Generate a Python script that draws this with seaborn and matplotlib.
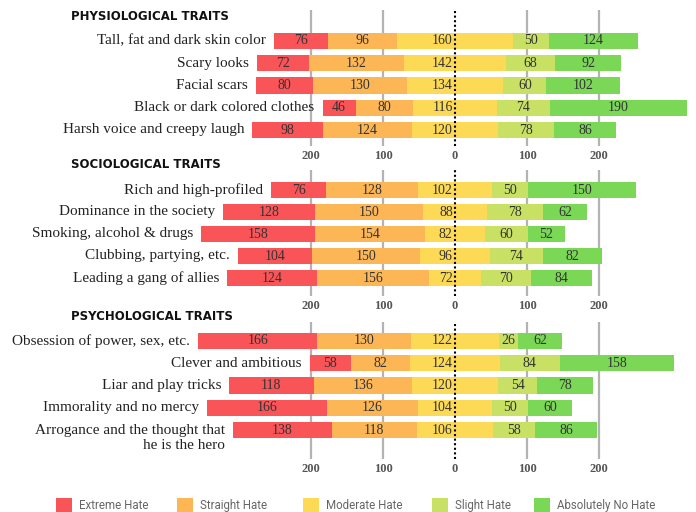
import pandas as pd
import matplotlib.pyplot as plt
from matplotlib.patches import Rectangle
import seaborn as sns

# hate levels and their colours
levels = ["Extreme Hate", "Straight Hate", "Moderate Hate", "Slight Hate", "Absolutely No Hate"]
colors = ["#F95457", "#FCB656", "#FDDA56", "#C8E063", "#7AD856"]

# physiological traits
physio_labels = ["Tall, fat and dark skin color", "Scary looks", "Facial scars",
                 "Black or dark colored clothes", "Harsh voice and creepy laugh"]
physio_extreme = [76, 72, 80, 46, 98]
physio_straight = [96, 132, 130, 80, 124]
physio_moderate = [160, 142, 134, 116, 120]
physio_slight = [50, 68, 60, 74, 78]
physio_none = [124, 92, 102, 190, 86]

# sociological traits
socio_labels = ["Rich and high-profiled", "Dominance in the society", "Smoking, alcohol & drugs",
                "Clubbing, partying, etc.", "Leading a gang of allies"]
socio_extreme = [76, 128, 158, 104, 124]
socio_straight = [128, 150, 154, 150, 156]
socio_moderate = [102, 88, 82, 96, 72]
socio_slight = [50, 78, 60, 74, 70]
socio_none = [150, 62, 52, 82, 84]

# psychological traits
psycho_labels = ["Obsession of power, sex, etc.", "Clever and ambitious", "Liar and play tricks",
                 "Immorality and no mercy", "Arrogance and the thought that\nhe is the hero"]
psycho_extreme = [166, 58, 118, 166, 138]
psycho_straight = [130, 82, 136, 126, 118]
psycho_moderate = [122, 124, 120, 104, 106]
psycho_slight = [26, 84, 54, 50, 58]
psycho_none = [62, 158, 78, 60, 86]

ticks = [-200, -100, 0, 100, 200]
tick_labels = ["200", "100", "0", "100", "200"]

sns.set_theme(style="white")
plt.rcParams["font.family"] = ["Liberation Serif", "DejaVu Serif"]

W, H = 696, 512
ZERO_PX = 455
SCALE = 0.72  # pixels per unit
fig = plt.figure(figsize=(W / 100, H / 100), dpi=100)
fig.patch.set_facecolor("white")

# (title, labels, series, title y px, grid top px, first row px, row spacing px, grid bottom px)
panels = [
    ("PHYSIOLOGICAL TRAITS", physio_labels,
     [physio_extreme, physio_straight, physio_moderate, physio_slight, physio_none],
     16, 10, 41, 22.25, 146),
    ("SOCIOLOGICAL TRAITS", socio_labels,
     [socio_extreme, socio_straight, socio_moderate, socio_slight, socio_none],
     165, 170, 190, 22.0, 296),
    ("PSYCHOLOGICAL TRAITS", psycho_labels,
     [psycho_extreme, psycho_straight, psycho_moderate, psycho_slight, psycho_none],
     316, 322, 341, 22.25, 459),
]

for title, labels, series, ty, gtop, row0, sp, gbot in panels:
    ax = fig.add_axes([0, 1 - gbot / H, 1, (gbot - gtop) / H])
    df = pd.DataFrame(dict(zip(levels, series)), index=labels)
    half = df["Moderate Hate"] / 2
    left_red = -(half + df["Straight Hate"] + df["Extreme Hate"])
    left_orange = -(half + df["Straight Hate"])
    right_green = half + df["Slight Hate"] + df["Absolutely No Hate"]
    right_light = half + df["Slight Hate"]

    # overlapping bars from zero, largest first
    layers = [(left_red, colors[0]), (left_orange, colors[1]), (-half, colors[2]),
              (right_green, colors[4]), (right_light, colors[3]), (half, colors[2])]
    for vals, col in layers:
        sns.barplot(x=vals.values, y=labels, orient="h", color=col, saturation=1,
                    width=0.72, linewidth=0, ax=ax, zorder=2)

    ax.set_xlim(-ZERO_PX / SCALE, (W - ZERO_PX) / SCALE)
    ax.set_ylim((gbot - row0) / sp, (gtop - row0) / sp)
    ax.set_yticks([])
    ax.set_ylabel("")
    ax.set_xticks(ticks)
    ax.set_xticklabels(tick_labels, fontweight="bold")
    ax.tick_params(axis="x", length=0, pad=3, labelsize=9, labelcolor="#555555")
    for s in ax.spines.values():
        s.set_visible(False)
    ax.patch.set_alpha(0)

    for v in [-200, -100, 100, 200]:
        ax.axvline(v, color="#B3B3B3", lw=1.6, zorder=0)
    ax.axvline(0, color="black", lw=1.5, ls=(0, (1, 1.2)), zorder=5)

    # value labels and trait names
    for i, lab in enumerate(labels):
        ext, stg, mod, sli, non = df.loc[lab]
        h = mod / 2
        kw = dict(va="center", fontsize=10, color="#333333")
        ax.text(-(h + stg + ext / 2), i, f"{ext}", ha="center", **kw)
        ax.text(-(h + stg / 2), i, f"{stg}", ha="center", **kw)
        ax.text(-3, i, f"{mod}", ha="right", **kw)
        ax.text(h + sli / 2, i, f"{sli}", ha="center", **kw)
        ax.text(h + sli + non / 2, i, f"{non}", ha="center", **kw)
        x_lab = -(h + stg + ext) - 11
        if "\n" in lab:
            ax.text(x_lab, i + 0.36, lab, ha="right", va="center", fontsize=11,
                    color="#222222", linespacing=1.12, multialignment="right")
        else:
            ax.text(x_lab, i, lab, ha="right", va="center", fontsize=11, color="#222222")

    fig.text(71 / W, 1 - ty / H, title, ha="left", va="center", fontsize=8.5,
             fontweight="heavy", family="DejaVu Sans", color="#111111")

# legend drawn by hand so all labels share one baseline
legend_x = [56, 177, 303, 432, 534]
for lx, lev, col in zip(legend_x, levels, colors):
    fig.add_artist(Rectangle((lx / W, 1 - 512 / H), 16 / W, 14 / H,
                             transform=fig.transFigure, facecolor=col, edgecolor="none"))
    fig.text((lx + 23) / W, 1 - 509 / H, lev, ha="left", va="baseline",
             family="Roboto", fontsize=8.3, color="#666666")

fig.savefig("out.png", dpi=100, facecolor="white")
